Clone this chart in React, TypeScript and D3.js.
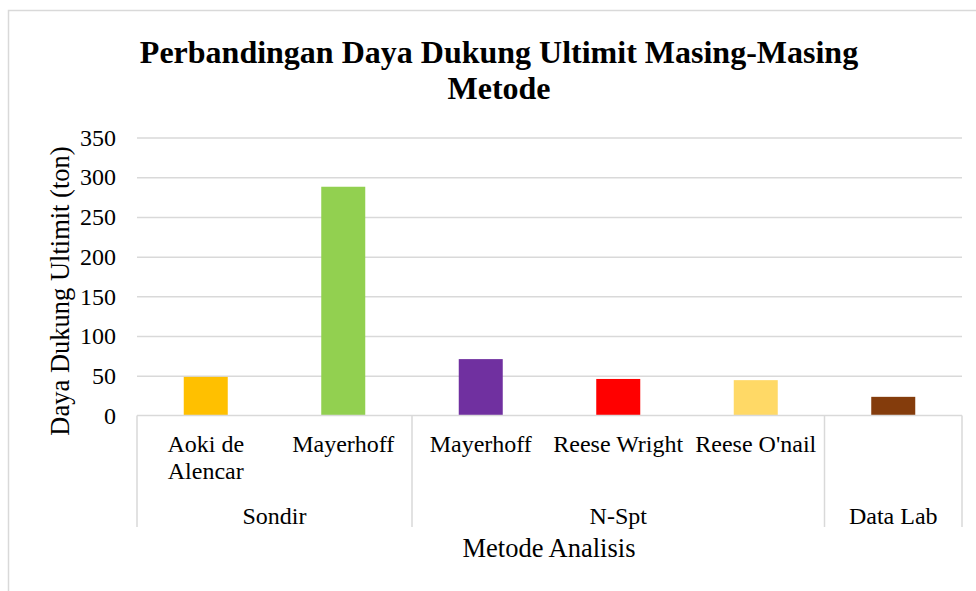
import React, { useRef, useEffect } from 'react';
import * as d3 from 'd3';

// Data
const methods = ['Aoki de\nAlencar', 'Mayerhoff', 'Mayerhoff', 'Reese Wright', "Reese O'nail", ''];
const methodGroups = ['Sondir', 'Sondir', 'N-Spt', 'N-Spt', 'N-Spt', 'Data Lab'];
const capacities = [48.6, 288, 71, 46, 44.5, 23.5];
const barColors = ['#FFC000', '#92D050', '#7030A0', '#FF0000', '#FFD966', '#843C0C'];
const yTicks = [0, 50, 100, 150, 200, 250, 300, 350];

const W = 976;
const H = 591;
const FONT = "'Liberation Serif', 'Times New Roman', Tinos, 'DejaVu Serif', serif";

const App = () => {
  const ref = useRef<SVGSVGElement | null>(null);

  useEffect(() => {
    if (!ref.current) return;
    const svg = d3.select(ref.current);
    svg.selectAll('*').remove();

    const left = 137;
    const right = 962;
    const top = 137.5;
    const bottom = 415.5;
    const grid = '#d9d9d9';

    // chart border (runs off the right and bottom edges)
    svg.append('rect')
      .attr('x', 8.5).attr('y', 10.5)
      .attr('width', 990).attr('height', 600)
      .attr('fill', '#fff')
      .attr('stroke', grid)
      .attr('stroke-width', 1.5);

    const label = (sel: any, size = 24) =>
      sel.style('font-family', FONT).style('font-size', `${size}px`).attr('fill', '#000');

    // Title
    const title = svg.append('text')
      .attr('text-anchor', 'middle')
      .style('font-weight', 'bold');
    label(title, 32);
    title.append('tspan').attr('x', 499).attr('y', 63).text('Perbandingan Daya Dukung Ultimit Masing-Masing');
    title.append('tspan').attr('x', 499).attr('y', 99).text('Metode');

    const idx = methods.map((_, i) => String(i));
    const x = d3.scaleBand().domain(idx).range([left, right]).padding(0);
    const barW = x.bandwidth() * 0.32;

    const y = d3.scaleLinear().domain([0, 350]).range([bottom, top]);

    // gridlines + tick labels
    const yAxis = svg.append('g')
      .attr('transform', `translate(${left},0)`)
      .call(d3.axisLeft(y).tickValues(yTicks).tickSize(0).tickPadding(21));
    yAxis.select('.domain').remove();
    yAxis.attr('font-family', null).attr('font-size', null);
    label(yAxis.selectAll('text'));
    yAxis.selectAll('.tick')
      .filter((d: any) => d !== 0)
      .append('line')
      .attr('x1', 0).attr('x2', right - left)
      .attr('stroke', grid)
      .attr('stroke-width', 1.5);

    // Bars
    svg.selectAll('rect.bar')
      .data(capacities)
      .enter()
      .append('rect')
      .attr('class', 'bar')
      .attr('x', (_, i) => (x(String(i)) as number) + (x.bandwidth() - barW) / 2)
      .attr('y', d => y(d))
      .attr('width', barW)
      .attr('height', d => bottom - y(d))
      .attr('fill', (_, i) => barColors[i]);

    // category axis line
    svg.append('line')
      .attr('x1', left).attr('x2', right)
      .attr('y1', bottom).attr('y2', bottom)
      .attr('stroke', grid).attr('stroke-width', 1.5);

    // method labels
    methods.forEach((m, i) => {
      const cx = (x(String(i)) as number) + x.bandwidth() / 2;
      const t = label(svg.append('text').attr('text-anchor', 'middle'));
      m.split('\n').forEach((line, j) => {
        t.append('tspan').attr('x', cx).attr('y', 452 + j * 27).text(line);
      });
    });

    // group boxes
    const groups: { name: string; start: number; end: number }[] = [];
    methodGroups.forEach((g, i) => {
      const last = groups[groups.length - 1];
      if (last && last.name === g) last.end = i;
      else groups.push({ name: g, start: i, end: i });
    });
    const sepBottom = 527;
    const bounds = new Set<number>();
    groups.forEach(g => {
      const x0 = x(String(g.start)) as number;
      const x1 = (x(String(g.end)) as number) + x.bandwidth();
      bounds.add(x0);
      bounds.add(x1);
      label(svg.append('text'))
        .attr('x', (x0 + x1) / 2)
        .attr('y', 524)
        .attr('text-anchor', 'middle')
        .text(g.name);
    });
    bounds.forEach(bx => {
      svg.append('line')
        .attr('x1', bx).attr('x2', bx)
        .attr('y1', bottom).attr('y2', sepBottom)
        .attr('stroke', grid).attr('stroke-width', 1.5);
    });

    // axis titles
    label(svg.append('text'), 26.5)
      .attr('x', 549).attr('y', 557)
      .attr('text-anchor', 'middle')
      .text('Metode Analisis');

    label(svg.append('text'), 26.5)
      .attr('transform', 'translate(69,291) rotate(-90)')
      .attr('text-anchor', 'middle')
      .text('Daya Dukung Ultimit (ton)');
  }, []);

  return (
    <svg
      ref={ref}
      width={W}
      height={H}
      style={{ position: 'fixed', left: 0, top: 0, background: '#fff' }}
    />
  );
};

export default App;
